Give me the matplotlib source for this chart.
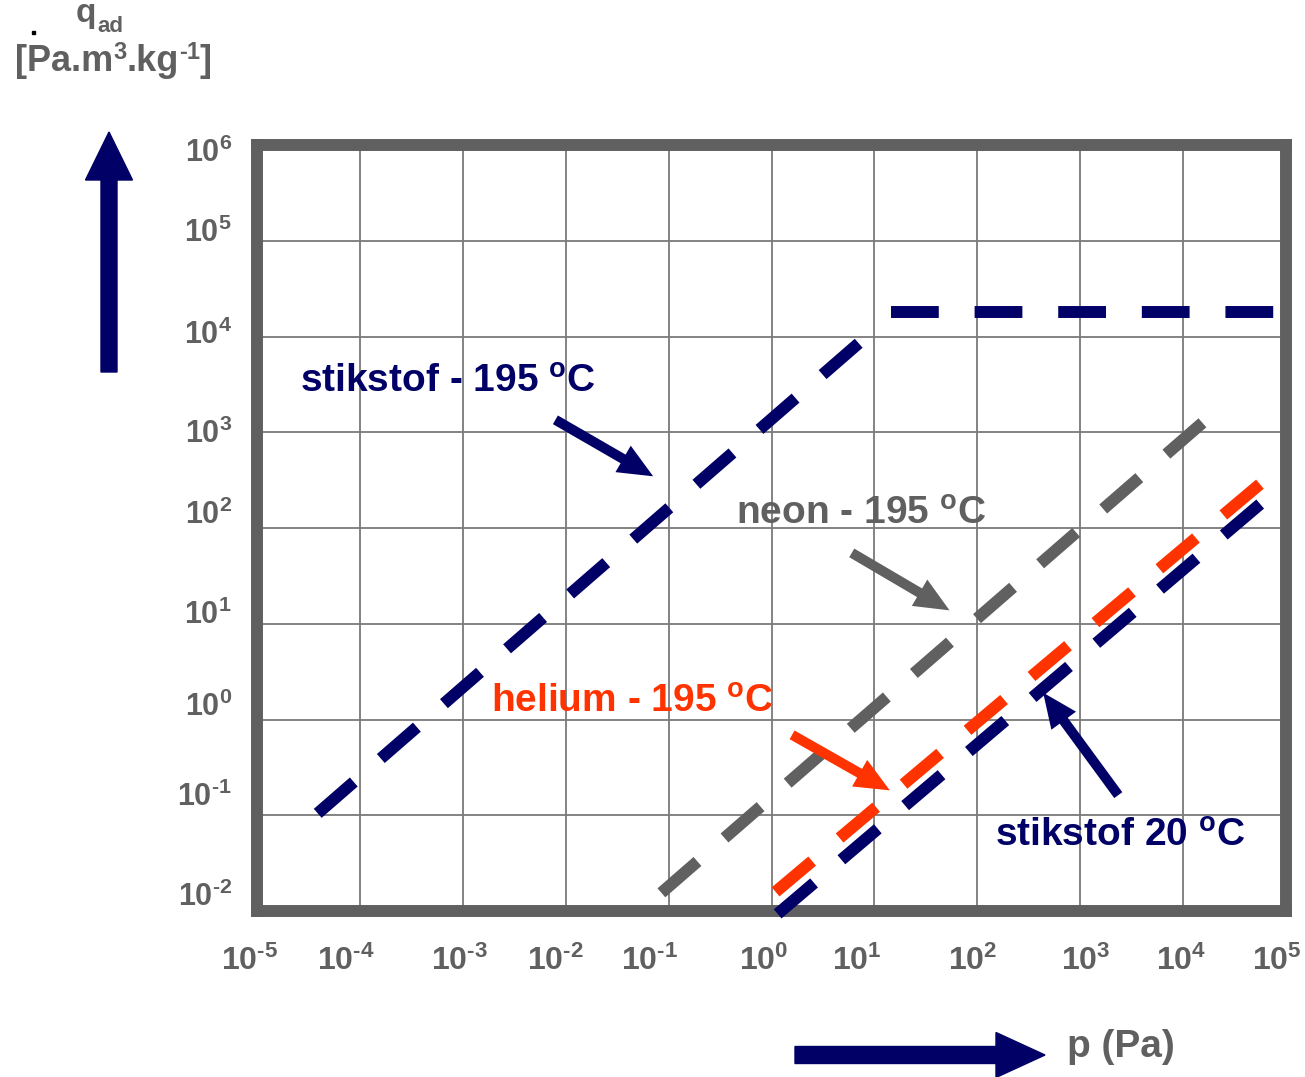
import matplotlib
matplotlib.use("Agg")
import matplotlib.pyplot as plt
from matplotlib.patches import FancyArrow, Rectangle
from matplotlib.text import Annotation
import numpy as np

plt.rcParams['font.family'] = ['Liberation Sans', 'DejaVu Sans']
plt.rcParams['font.weight'] = 'bold'
plt.rcParams['mathtext.fontset'] = 'custom'
plt.rcParams['mathtext.rm'] = 'Liberation Sans:bold'
plt.rcParams['mathtext.bf'] = 'Liberation Sans:bold'
plt.rcParams['mathtext.it'] = 'Liberation Sans:bold'
plt.rcParams['mathtext.default'] = 'bf'

NAVY = '#000066'
RED = '#ff3300'
GREY = '#606060'

# decades shown on the axes (log10)
x_exps = list(range(-5, 6))
y_exps = list(range(-2, 7))

# isotherms: log10 p and log10 q at both ends of every dashed line
n2_cold_logp = [-4.41, 0.88]
n2_cold_logq = [-0.98, 3.96]
n2_sat_logp = [1.16, 4.89]      # saturated part of stikstof -195
n2_sat_logq = [4.26, 4.26]
neon_logp = [-1.07, 4.20]
neon_logq = [-1.81, 3.11]
helium_logp = [0.04, 4.76]
helium_logq = [-1.80, 2.47]
n2_warm_logp = [0.06, 4.76]
n2_warm_logq = [-2.03, 2.26]

# the tick labels were placed by hand in the original, nudge them (pixels)
x_label_nudge = [-7, -14, -3, -10, -19, -8, -18, -5, 6, -2, -9]
y_label_nudge = [-16, -20, -15, -11, -15, 0, -4, -10, 6]

fig = plt.figure(figsize=(13.05, 10.77), dpi=100)
ax = fig.add_axes([257 / 1305, 1 - 911 / 1077, 1029 / 1305, 766 / 1077])
ax.set_xscale('log')
ax.set_yscale('log')
ax.set_xlim(10.0 ** x_exps[0], 10.0 ** x_exps[-1])
ax.set_ylim(10.0 ** y_exps[0], 10.0 ** y_exps[-1])
ax.set_xticks([10.0 ** e for e in x_exps])
ax.set_yticks([10.0 ** e for e in y_exps])
ax.minorticks_off()
ax.tick_params(length=0, labelbottom=False, labelleft=False)
ax.grid(True, color='#7a7a7a', lw=1.3)
for s in ax.spines.values():
    s.set_linewidth(8.6)
    s.set_color(GREY)
    s.set_capstyle('projecting')


def exp_label(e):
    # hyphen instead of the math minus sign
    if e < 0:
        return '10$^{\\text{-}%d}$' % (-e)
    return '10$^{%d}$' % e


for e, dx in zip(x_exps, x_label_nudge):
    ax.annotate(exp_label(e), xy=(10.0 ** e, 0), xycoords=ax.get_xaxis_transform(),
                xytext=(dx, -59), textcoords='offset pixels', ha='center', va='baseline',
                fontsize=23, color=GREY, annotation_clip=False)
for e, dy in zip(y_exps, y_label_nudge):
    ax.annotate(exp_label(e), xy=(0, 10.0 ** e), xycoords=ax.get_yaxis_transform(),
                xytext=(-25, -(dy + 11)), textcoords='offset pixels', ha='right', va='baseline',
                fontsize=22, color=GREY, annotation_clip=False)


def isotherm(lp, lq, colour):
    ax.plot(10.0 ** np.array(lp), 10.0 ** np.array(lq), color=colour, lw=8.6,
            dashes=(4, 3), dash_capstyle='butt', clip_on=False, zorder=3)


isotherm(n2_cold_logp, n2_cold_logq, NAVY)
isotherm(n2_sat_logp, n2_sat_logq, NAVY)
isotherm(neon_logp, neon_logq, GREY)
isotherm(helium_logp, helium_logq, RED)
isotherm(n2_warm_logp, n2_warm_logq, NAVY)


def pointer(tail, tip, colour):
    ax.annotate('', xy=(10.0 ** tip[0], 10.0 ** tip[1]), xytext=(10.0 ** tail[0], 10.0 ** tail[1]),
                arrowprops=dict(arrowstyle='simple,head_length=1.25,head_width=1.1,tail_width=0.36',
                                mutation_scale=20, fc=colour, ec='none', shrinkA=0, shrinkB=0),
                zorder=4)


def label(pos, txt, colour):
    ax.text(10.0 ** pos[0], 10.0 ** pos[1], txt, color=colour, fontsize=28, va='baseline', zorder=4)


label((-4.58, 3.42), 'stikstof - 195 $^{o}$C', NAVY)
label((-0.345, 2.05), 'neon - 195 $^{o}$C', GREY)
label((-2.73, 0.08), 'helium - 195 $^{o}$C', RED)
label((2.17, -1.32), 'stikstof 20 $^{o}$C', NAVY)

pointer((-2.10, 3.13), (-1.15, 2.54), NAVY)
pointer((0.78, 1.74), (1.73, 1.14), GREY)
pointer((0.20, -0.16), (1.15, -0.74), RED)
pointer((3.37, -0.79), (2.64, 0.28), NAVY)

# axis titles and the big arrows outside the frame
fig.text(76 / 1305, 1 - 22 / 1077, 'q', fontsize=24, color=GREY, va='baseline')
fig.text(97 / 1305, 1 - 32 / 1077, 'ad', fontsize=16, color=GREY, va='baseline')

# unit line built piece by piece so the superscripts look like the original
base = fig.text(15 / 1305, 1 - 71 / 1077, '[Pa.m', fontsize=26, color=GREY, va='baseline')
prev = base
for txt, is_sup in [('3', True), ('.kg', False), ('-1', True), (']', False)]:
    if is_sup:
        piece = Annotation(txt, xy=(1, 1), xycoords=(prev, base), xytext=(0, 3),
                           textcoords='offset pixels', va='top', ha='left', fontsize=17, color=GREY)
    else:
        piece = Annotation(txt, xy=(1, 0), xycoords=(prev, base), va='bottom', ha='left',
                           fontsize=26, color=GREY)
    fig.add_artist(piece)
    prev = piece

fig.text(1067 / 1305, 1 - 1047 / 1077, 'p (Pa)', fontsize=28, color=GREY, va='center')

fig.patches.append(FancyArrow(1.09, 7.05, 0, 2.40, width=0.16, head_width=0.47, head_length=0.48,
                              length_includes_head=True, color=NAVY, transform=fig.dpi_scale_trans))
fig.patches.append(FancyArrow(7.95, 0.22, 2.50, 0, width=0.17, head_width=0.45, head_length=0.49,
                              length_includes_head=True, color=NAVY, transform=fig.dpi_scale_trans))
fig.patches.append(Rectangle((0.32, (1077 - 34) / 100), 0.03, 0.03, color='black',
                             transform=fig.dpi_scale_trans))

fig.savefig('out.png', dpi=100)
